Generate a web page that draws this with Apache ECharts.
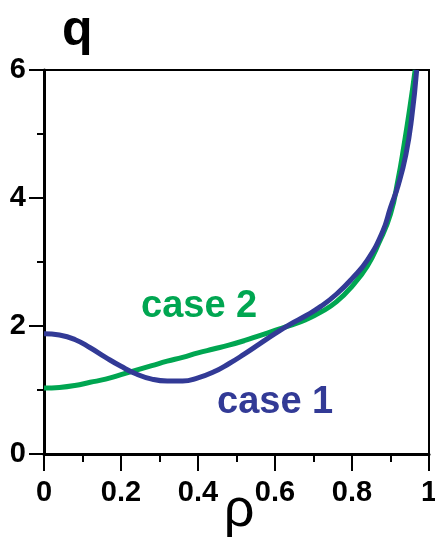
<!DOCTYPE html>
<html>
<head>
<meta charset="utf-8">
<script src="https://cdn.jsdelivr.net/npm/echarts@6/dist/echarts.min.js"></script>
<style>html,body{margin:0;padding:0;background:#fff}#c{width:435px;height:544px}</style>
</head>
<body>
<div id="c"></div>
<script>
// case 1 (blue)
var rho1 = [0.00,0.04,0.08,0.12,0.16,0.20,0.24,0.28,0.32,0.36,0.40,0.44,0.48,0.52,0.56,0.60,0.64,0.68,0.72,0.76,0.80,0.84,0.88,0.90,0.92,0.94,0.955,0.968];
var q1   = [1.88,1.86,1.79,1.66,1.51,1.37,1.25,1.17,1.14,1.14,1.19,1.28,1.41,1.56,1.72,1.88,2.03,2.16,2.31,2.50,2.74,3.03,3.48,3.85,4.20,4.68,5.25,6.00];
// case 2 (green)
var rho2 = [0.00,0.04,0.08,0.12,0.16,0.20,0.24,0.28,0.32,0.36,0.40,0.44,0.48,0.52,0.56,0.60,0.64,0.68,0.72,0.76,0.80,0.84,0.87,0.90,0.92,0.935,0.95,0.964];
var q2   = [1.03,1.04,1.07,1.12,1.17,1.24,1.31,1.38,1.45,1.51,1.58,1.64,1.70,1.77,1.85,1.93,2.01,2.10,2.22,2.38,2.62,2.94,3.30,3.75,4.30,4.82,5.40,6.00];
var xTicks = [0, 0.2, 0.4, 0.6, 0.8, 1];
var yTicks = [0, 2, 4, 6];
var seriesNames = ['case 1', 'case 2'];

function pairs(xs, ys){ return xs.map(function(x,i){ return [x, ys[i]]; }); }

var FONT = '"Liberation Sans", Arial, sans-serif';
var chart = echarts.init(document.getElementById('c'), null, {renderer:'canvas'});
chart.setOption({
  animation: false,
  backgroundColor: '#fff',
  grid: {left: 44, right: 6, top: 70, bottom: 90, containLabel: false, outerBoundsMode: 'none',
         show: true, borderColor: '#000', borderWidth: 2, backgroundColor: 'transparent'},
  xAxis: {
    type: 'value', min: xTicks[0], max: xTicks[xTicks.length-1], interval: 0.2,
    name: 'ρ', nameLocation: 'middle', nameGap: 30, nameMoveOverlap: false,
    nameTextStyle: {fontFamily: FONT, fontSize: 54, color: '#000', padding: [0,0,0,5]},
    axisLine: {show: true, lineStyle: {color: '#000', width: 3}},
    axisTick: {show: true, inside: false, length: 17, lineStyle: {color: '#000', width: 2}},
    minorTick: {show: true, splitNumber: 2, length: 8, lineStyle: {color: '#000', width: 2}},
    axisLabel: {margin: 24, fontFamily: FONT, fontSize: 29, fontWeight: 'bold', color: '#000'},
    splitLine: {show: false}, minorSplitLine: {show: false}
  },
  yAxis: {
    type: 'value', min: yTicks[0], max: yTicks[yTicks.length-1], interval: 2,
    name: 'q', nameLocation: 'end', nameGap: 14, nameMoveOverlap: false,
    nameTextStyle: {fontFamily: FONT, fontSize: 50, fontWeight: 'bold', color: '#000', align: 'left', verticalAlign: 'bottom', padding: [0,0,0,18]},
    axisLine: {show: true, lineStyle: {color: '#000', width: 3}},
    axisTick: {show: true, inside: false, length: 15, lineStyle: {color: '#000', width: 2}},
    minorTick: {show: true, splitNumber: 2, length: 7, lineStyle: {color: '#000', width: 2}},
    axisLabel: {margin: 18, fontFamily: FONT, fontSize: 29, fontWeight: 'bold', color: '#000'},
    splitLine: {show: false}, minorSplitLine: {show: false}
  },
  series: [
    {name: seriesNames[0], type: 'line', data: pairs(rho1, q1), showSymbol: false, smooth: 0.5,
     lineStyle: {color: '#323a96', width: 5}, z: 3},
    {name: seriesNames[1], type: 'line', data: pairs(rho2, q2), showSymbol: false, smooth: 0.5,
     lineStyle: {color: '#00a651', width: 5}, z: 2}
  ],
  graphic: [
    {type: 'text', left: 141, top: 288, style: {text: seriesNames[1], font: 'bold 38px ' + FONT, fill: '#00a651'}},
    {type: 'text', left: 217, top: 384, style: {text: seriesNames[0], font: 'bold 38px ' + FONT, fill: '#323a96'}}
  ]
});
</script>
</body>
</html>
